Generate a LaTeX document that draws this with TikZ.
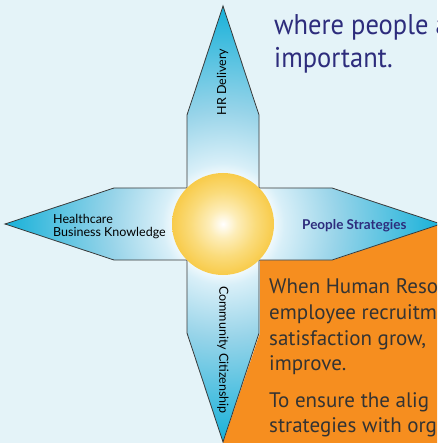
\documentclass[tikz,border=0pt]{standalone}
\usepackage{fontspec}
\setmainfont{PT Sans}
\newfontfamily\labelfont{Lato}
\newfontfamily\headfont[FakeStretch=0.93]{PT Sans}
\definecolor{bgblue}{HTML}{E4F3F8}
\definecolor{armpale}{HTML}{D8EFF8}
\definecolor{armlight}{HTML}{98D4E9}
\definecolor{armcyan}{HTML}{17B1D9}
\definecolor{sunpale}{HTML}{FDEDB8}
\definecolor{sunmid}{HTML}{FADB7A}
\definecolor{sunyellow}{HTML}{F8CB4A}
\definecolor{boxorange}{HTML}{F68E1F}
\definecolor{navy}{HTML}{2D2C7C}
\definecolor{textgray}{HTML}{333333}
\definecolor{edgegray}{HTML}{3A3A3A}
\pgfdeclareradialshading{armshade}{\pgfpoint{0bp}{0bp}}{color(0bp)=(white); color(5bp)=(white); color(7bp)=(armpale); color(13bp)=(armlight); color(25bp)=(armcyan); color(50bp)=(armcyan)}
\pgfdeclareradialshading{sunshade}{\pgfpoint{0bp}{0bp}}{color(0bp)=(white); color(7bp)=(sunpale); color(16bp)=(sunmid); color(25bp)=(sunyellow); color(50bp)=(sunyellow)}
\begin{document}
\begin{tikzpicture}[x=1pt,y=-1pt,font=\labelfont]
	\tikzset{armlabel/.style={font=\labelfont\fontsize{12.5}{14}\selectfont,text=black,inner sep=0pt},
		bodytext/.style={font=\fontsize{21}{25}\selectfont,text=textgray,anchor=base west,inner sep=0pt},
		headtext/.style={font=\headfont\fontsize{28.5}{33}\selectfont,text=navy,anchor=base west,inner sep=0pt}}
	%background
	\useasboundingbox (0,0) rectangle (437,443);
	\clip (0,0) rectangle (437,443);
	\fill[bgblue] (0,0) rectangle (437,443);

	%orange box
	\fill[boxorange] (260,260) -- (333,260) -- (441,224) -- (437,224) -- (437,443) -- (223,443) -- (260,333) -- cycle;

	%star
	\shade[shading=armshade,draw=edgegray,line width=0.8pt] (223,6) -- (259,115) -- (259,188) -- (332,188) -- (441,224) -- (332,260) -- (259,260) -- (259,333) -- (223,442) -- (187,333) -- (187,260) -- (114,260) -- (5,224) -- (114,188) -- (187,188) -- (187,115) -- cycle; %arms

	%sun
	\shade[shading=sunshade] (223,224) circle (51);

	%arm labels
	\node[armlabel,rotate=90] (hr) at (222.5,82) {HR Delivery};
	\node[armlabel,rotate=-90] (community) at (223,350) {Community Citizenship};
	\node[armlabel,anchor=base west] (health) at (53,223) {Healthcare};
	\node[armlabel,anchor=base west] (business) at (53,236.5) {Business Knowledge};
	\node[armlabel,anchor=base west,text=navy,font=\labelfont\bfseries\fontsize{13.5}{15}\selectfont] (people) at (302,229) {People Strategies};

	%top text
	\node[headtext] (where) at (274,35) {where people a};
	\node[headtext] (important) at (274,68) {important.};

	%orange text
	\node[bodytext] (when) at (269,293) {When Human Reso};
	\node[bodytext] (employee) at (269,319.5) {employee recruitm};
	\node[bodytext] (satisfaction) at (269,345) {satisfaction grow,};
	\node[bodytext] (improve) at (269,370) {improve.};
	\node[bodytext] (ensure) at (269,407) {To ensure the alig};
	\node[bodytext] (strategies) at (269,432) {strategies with org};
\end{tikzpicture}
\end{document}
